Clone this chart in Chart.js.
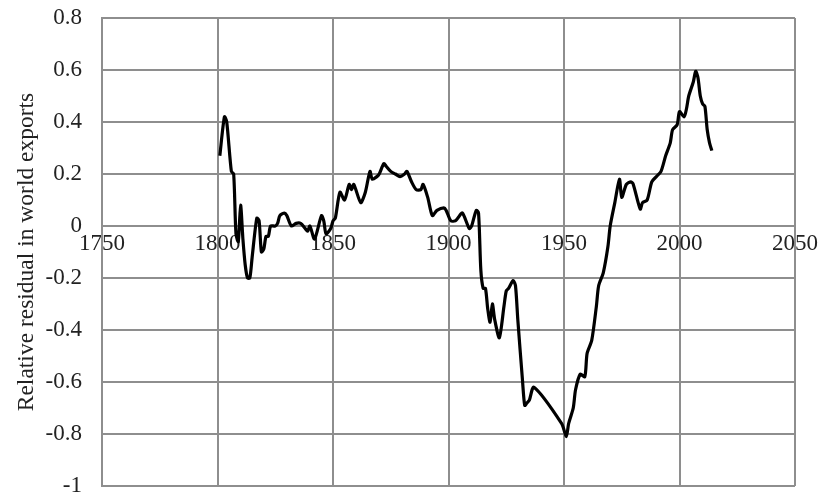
<!DOCTYPE html>
<html>
<head>
<meta charset="utf-8">
<script src="https://cdn.jsdelivr.net/npm/chart.js@4.4.1/dist/chart.umd.min.js"></script>
<style>
  html, body { margin: 0; padding: 0; background: #fff; }
  #wrap { width: 820px; height: 497px; }
</style>
</head>
<body>
<div id="wrap"><canvas id="residual-chart"></canvas></div>
<script>
// years and relative residual
var years = [
    1801, 1803, 1804, 1806, 1807, 1808, 1809, 1810, 1811, 1812, 1813, 1814, 1815, 1817, 1818, 1819,
    1820, 1821, 1822, 1823, 1825, 1826, 1827, 1829, 1830, 1832, 1834, 1836, 1838, 1839, 1840, 1842,
    1845, 1846, 1847, 1849, 1850, 1851, 1853, 1855, 1857, 1858, 1859, 1862, 1864, 1866, 1867, 1869,
    1870, 1872, 1873, 1875, 1877, 1879, 1881, 1882, 1884, 1886, 1888, 1889, 1891, 1893, 1895, 1898,
    1899, 1901, 1903, 1904, 1906, 1909, 1910, 1912, 1913, 1914, 1915, 1916, 1917, 1918, 1919, 1920,
    1922, 1924, 1925, 1926, 1928, 1929, 1930, 1932, 1933, 1934, 1935, 1937, 1949, 1951, 1952, 1954,
    1955, 1957, 1959, 1960, 1962, 1964, 1965, 1967, 1969, 1970, 1972, 1974, 1975, 1977, 1979, 1980,
    1983, 1984, 1986, 1988, 1990, 1992, 1994, 1996, 1997, 1999, 2000, 2002, 2003, 2004, 2006, 2007,
    2008, 2009, 2010, 2011, 2012, 2013, 2014
];
var residuals = [
    0.27, 0.42, 0.40, 0.21, 0.20, -0.03, -0.06, 0.08, -0.05, -0.15, -0.20, -0.20, -0.12, 0.03, 0.02, -0.10,
    -0.09, -0.04, -0.04, 0.00, 0.00, 0.01, 0.04, 0.05, 0.04, 0.00, 0.01, 0.01, -0.01, -0.02, 0.00, -0.05,
    0.04, 0.02, -0.03, -0.01, 0.02, 0.03, 0.13, 0.10, 0.16, 0.14, 0.16, 0.09, 0.13, 0.21, 0.18, 0.19,
    0.20, 0.24, 0.23, 0.21, 0.20, 0.19, 0.20, 0.21, 0.17, 0.14, 0.14, 0.16, 0.11, 0.04, 0.06, 0.07,
    0.06, 0.02, 0.02, 0.03, 0.05, -0.01, 0.00, 0.06, 0.05, -0.17, -0.24, -0.24, -0.32, -0.37, -0.30, -0.36,
    -0.43, -0.31, -0.25, -0.24, -0.21, -0.23, -0.36, -0.59, -0.69, -0.68, -0.67, -0.62, -0.76, -0.81, -0.76, -0.70,
    -0.63, -0.57, -0.58, -0.49, -0.44, -0.31, -0.23, -0.18, -0.08, 0.00, 0.09, 0.18, 0.11, 0.16, 0.17, 0.16,
    0.065, 0.09, 0.10, 0.17, 0.19, 0.21, 0.27, 0.32, 0.37, 0.39, 0.44, 0.42, 0.45, 0.50, 0.555, 0.595,
    0.57, 0.50, 0.47, 0.46, 0.37, 0.32, 0.29
];
var xTicks = [1750, 1800, 1850, 1900, 1950, 2000, 2050];
var yTitle = "Relative residual in world exports";

var points = years.map(function (yr, i) { return { x: yr, y: residuals[i] }; });

var gridColor = "#8e8e8e";
var textColor = "#222";
var serif = "'Liberation Serif', 'Times New Roman', serif";

var config = {
    type: "line",
    data: {
        datasets: [{
            data: points,
            borderColor: "#000",
            borderWidth: 3.2,
            pointRadius: 0,
            tension: 0.25,
            fill: false
        }]
    },
    options: {
        responsive: true,
        maintainAspectRatio: false,
        animation: false,
        layout: { padding: { top: 18, right: 25, bottom: 11, left: 0 } },
        plugins: { legend: { display: false }, tooltip: { enabled: false } },
        scales: {
            x: {
                type: "linear",
                position: { y: 0 },
                min: 1750,
                max: 2050,
                afterBuildTicks: function (scale) {
                    scale.ticks = xTicks.map(function (v) { return { value: v }; });
                },
                afterFit: function (scale) {
                    scale.height = 0;
                    scale.paddingLeft = 0;
                    scale.paddingRight = 0;
                },
                grid: { color: gridColor, lineWidth: 2, drawTicks: false },
                border: { display: false },
                ticks: {
                    color: textColor,
                    font: { family: serif, size: 23 },
                    padding: 4,
                    maxRotation: 0,
                    autoSkip: false,
                    callback: function (v) { return String(v); }
                }
            },
            y: {
                type: "linear",
                min: -1,
                max: 0.8,
                afterFit: function (scale) {
                    scale.width = 102;
                    scale.paddingTop = 0;
                    scale.paddingBottom = 0;
                },
                grid: { color: gridColor, lineWidth: 2, drawTicks: false },
                border: { color: gridColor, width: 2 },
                ticks: {
                    stepSize: 0.2,
                    color: textColor,
                    font: { family: serif, size: 23 },
                    padding: 20,
                    callback: function (v) {
                        var r = Math.round(v * 10) / 10;
                        return r === 0 ? "0" : String(r);
                    }
                },
                title: {
                    display: true,
                    text: yTitle,
                    color: textColor,
                    font: { family: serif, size: 23.5 },
                    padding: { top: 13, bottom: 0 }
                }
            }
        }
    }
};

var residualChart = new Chart(document.getElementById("residual-chart"), config);
</script>
</body>
</html>
